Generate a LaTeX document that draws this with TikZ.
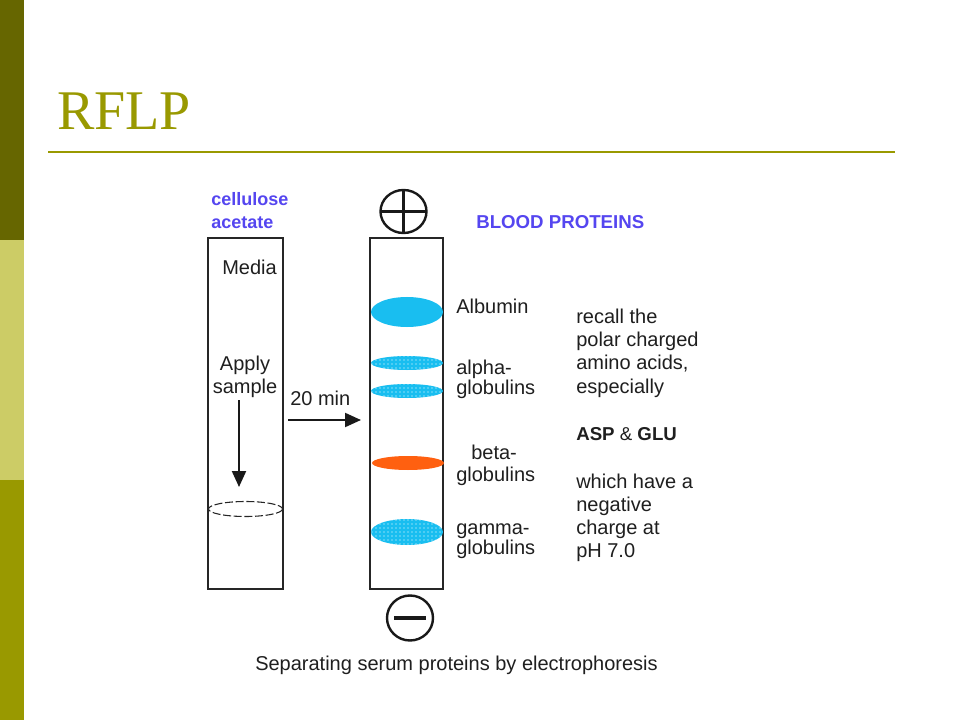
\documentclass[tikz,border=0pt]{standalone}
\usepackage{fontspec}
\setmainfont{Liberation Sans}
\newfontfamily\titelfont{Liberation Serif}
\usetikzlibrary{arrows.meta,patterns}
\definecolor{olivdunkel}{RGB}{102,102,0}
\definecolor{olivhell}{RGB}{204,204,102}
\definecolor{oliv}{RGB}{153,153,0}
\definecolor{blauschrift}{RGB}{85,70,240}
\definecolor{cyanband}{RGB}{25,190,240}
\definecolor{orangeband}{RGB}{255,96,16}
\begin{document}
\begin{tikzpicture}[x=0.75pt,y=-0.75pt,>={Triangle[length=12pt,width=10.5pt]},
  txt/.style={font=\fontsize{15}{17}\selectfont,text=black!88,inner sep=0pt,anchor=base west},
  kopf/.style={font=\fontsize{13.5}{17}\selectfont\bfseries,text=blauschrift,inner sep=0pt,anchor=base west},
  streifen/.style={draw=black!85,line width=1.1pt},
  pfeil/.style={->,line width=1.6pt,black!90},
  pol/.style={line width=1.8pt,black!90}]
  \useasboundingbox (0,0) rectangle (960,720);
  \fill[white] (0,0) rectangle (960,720);
  % Randleiste
  \fill[olivdunkel] (0,0) rectangle (24,240);
  \fill[olivhell] (0,240) rectangle (24,480);
  \fill[oliv] (0,480) rectangle (24,720);
  % Titel
  \node[font=\titelfont\fontsize{42}{50}\selectfont,text=oliv,inner sep=0pt,anchor=base west] (titel) at (57,130) {RFLP};
  \draw[oliv,line width=1.5pt] (48,152)--(895,152);
  % Streifen
  \draw[streifen] (208,238) rectangle (283,589);
  \draw[streifen] (370,238) rectangle (443,589);
  \draw[black!85,line width=.8pt,dash pattern=on 6pt off 2pt] (245.5,509) ellipse [x radius=37,y radius=7.5];
  % Banden
  \fill[cyanband] (407,312) ellipse [x radius=36,y radius=15];
  \foreach \y/\r in {363/7,391/7,532/13} {
    \fill[cyanband] (407,\y) ellipse [x radius=36,y radius=\r];
    \fill[pattern=dots,pattern color=white] (407,\y) ellipse [x radius=36,y radius=\r];
  }
  \fill[orangeband] (408,463) ellipse [x radius=36,y radius=7];
  % Pole
  \draw[pol] (403.5,211.5) ellipse [x radius=23,y radius=21.5];
  \draw[pol] (381,211.5)--(426,211.5) (403.5,190.5)--(403.5,232.5);
  \draw[pol] (410,618) ellipse [x radius=23,y radius=22.5];
  \draw[pol,line width=2.5pt] (394,618)--(426,618);
  % Pfeile
  \coordinate (ab) at (239,400);
  \coordinate (an) at (239,487);
  \coordinate (zl) at (288,420);
  \coordinate (zr) at (361,420);
  \draw[pfeil] (ab)--(an);
  \draw[pfeil] (zl)--(zr);
  % Beschriftung links
  \node[kopf] (cell) at (211,206) {cellulose};
  \node[kopf] (acet) at (211,229) {acetate};
  \node[txt] (media) at (222,275) {Media};
  \node[txt,anchor=base] (apply) at (245,370) {Apply};
  \node[txt,anchor=base] (sample) at (245,393) {sample};
  \node[txt] (zeit) at (290,405) {20 min};
  % Beschriftung rechts
  \node[kopf,font=\fontsize{14}{17}\selectfont\bfseries] (blut) at (476,229) {BLOOD PROTEINS};
  \node[txt] (alb) at (456,314) {Albumin};
  \node[txt] (alpha) at (456,374) {alpha-};
  \node[txt] (alphag) at (456,394) {globulins};
  \node[txt] (beta) at (471,459) {beta-};
  \node[txt] (betag) at (456,481) {globulins};
  \node[txt] (gamma) at (456,534) {gamma-};
  \node[txt] (gammag) at (456,554) {globulins};
  \foreach \t/\y [count=\i] in {recall the/323,polar charged/346,{amino acids,}/369,especially/393,
      which have a/488,negative/511,charge at/534,pH 7.0/557}
    \node[txt] (r\i) at (576,\y) {\t};
  \node[txt] (asp) at (576,440) {\fontsize{14}{17}\selectfont\textbf{ASP} \& \textbf{GLU}};
  \node[txt] (unter) at (255,670) {Separating serum proteins by electrophoresis};
\end{tikzpicture}
\end{document}
